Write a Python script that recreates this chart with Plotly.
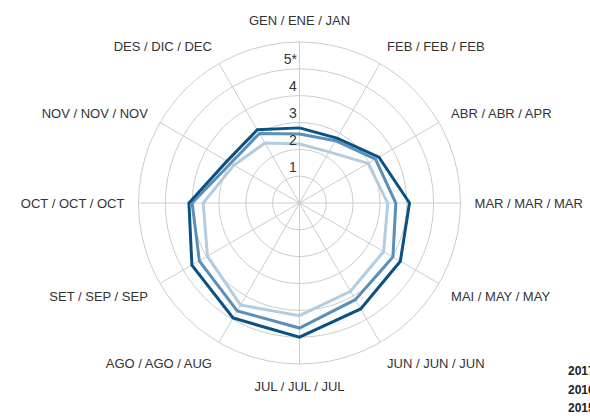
import plotly.graph_objects as go

# Month labels (Catalan / Spanish / English), in the order drawn clockwise from the top
months = [
    "GEN / ENE / JAN", "FEB / FEB / FEB", "ABR / ABR / APR", "MAR / MAR / MAR",
    "MAI / MAY / MAY", "JUN / JUN / JUN", "JUL / JUL / JUL", "AGO / AGO / AUG",
    "SET / SEP / SEP", "OCT / OCT / OCT", "NOV / NOV / NOV", "DES / DIC / DEC",
]

values_2017 = [2.80, 2.79, 3.42, 4.10, 4.34, 4.56, 5.00, 4.95, 4.63, 4.12, 3.12, 3.15]
values_2016 = [2.57, 2.68, 3.27, 3.59, 4.02, 4.16, 4.66, 4.64, 4.31, 4.00, 2.96, 2.99]
values_2015 = [2.20, 2.20, 2.95, 3.29, 3.62, 3.80, 4.20, 4.39, 3.96, 3.59, 2.82, 2.58]

radial_ticks = [1, 2, 3, 4, 5]
radial_ticktext = ["1", "2", "3", "4", "5*"]

series = [
    ("2015", values_2015, "#b3cde0"),
    ("2016", values_2016, "#5b8fb8"),
    ("2017", values_2017, "#0a5283"),
]

fig = go.Figure()
for name, vals, color in series:
    fig.add_trace(go.Scatterpolar(
        r=vals + vals[:1],
        theta=months + months[:1],
        mode="lines",
        name=name,
        line=dict(color=color, width=3),
        showlegend=False,
    ))

grid = "#cccccc"
fig.update_layout(
    width=590,
    height=416,
    margin=dict(l=0, r=0, t=0, b=0),
    paper_bgcolor="white",
    plot_bgcolor="white",
    font=dict(family="Liberation Sans, Arial, sans-serif", color="#333333", size=13),
    polar=dict(
        domain=dict(x=[0.2347, 0.7805], y=[0.125, 0.899]),
        bgcolor="white",
        radialaxis=dict(
            range=[0, 6],
            tickvals=radial_ticks,
            # a blank second line lifts each value label above its ring
            ticktext=[t + "<br> " for t in radial_ticktext],
            angle=90,
            tickangle=90,
            side="counterclockwise",
            showline=False,
            ticks="",
            gridcolor=grid,
            gridwidth=1,
            tickfont=dict(size=14, color="#333333"),
        ),
        angularaxis=dict(
            categoryarray=months,
            categoryorder="array",
            rotation=90,
            direction="clockwise",
            gridcolor=grid,
            linecolor=grid,
            linewidth=1,
            ticks="outside",
            ticklen=11,
            tickcolor="rgba(0,0,0,0)",
            tickfont=dict(size=13, color="#333333"),
        ),
    ),
)

# Year key at the lower right
for label, ypix in [("2017", 371), ("2016", 390), ("2015", 408)]:
    fig.add_annotation(
        x=566 / 590, y=1 - ypix / 416, xref="paper", yref="paper",
        text="<b>" + label + "</b>", showarrow=False,
        xanchor="left", yanchor="middle",
        font=dict(size=12, color="#222222"),
    )

fig.write_html("out.html")
